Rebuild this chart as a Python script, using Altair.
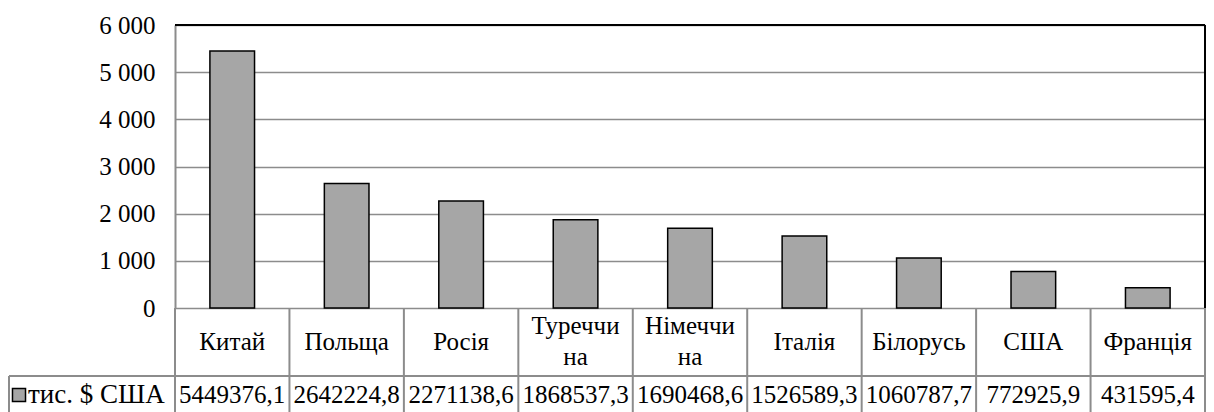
import altair as alt
import pandas as pd

# ---- data ----
countries = ["Китай", "Польща", "Росія", "Туреччина", "Німеччина",
             "Італія", "Білорусь", "США", "Франція"]
cell_labels = ["Китай", "Польща", "Росія", "Туреччи\nна", "Німеччи\nна",
               "Італія", "Білорусь", "США", "Франція"]
values = [5449376.1, 2642224.8, 2271138.6, 1868537.3, 1690468.6,
          1526589.3, 1060787.7, 772925.9, 431595.4]
series_name = ["тис. $ США"]
y_ticks = [0, 1000, 2000, 3000, 4000, 5000, 6000]

df = pd.DataFrame({"country": countries, "label": cell_labels, "value": values})
single = pd.DataFrame({"series": series_name})

PAD_L = 167
W, H = 1030, 283
FONT = "Times New Roman, Liberation Serif"
FS = 25
GRID = "#8c8c8c"
TABLE_BOTTOM = H + 130
ROW_DIV = 351
LEFT_EDGE = -(PAD_L - 1)
CAT_Y = 317
VAL_Y = 370


def xcat(bp=None):
    kw = {} if bp is None else {"bandPosition": bp}
    return alt.X("country:N", sort=countries,
                 scale=alt.Scale(paddingInner=0, paddingOuter=0), axis=None, **kw)


base = alt.Chart(df).transform_calculate(
    k="datum.value / 1000",
    vtxt="replace(format(datum.value, '.1f'), '.', ',')",
    nlines="length(split(datum.label, '\\n'))",
)
one = alt.Chart(single)

bars = base.mark_bar(width=alt.RelativeBandSize(0.39), color="#A6A6A6",
                     stroke="black", strokeWidth=1.5).encode(
    x=xcat(),
    y=alt.Y("k:Q", scale=alt.Scale(domain=[0, 6000], nice=False),
            axis=alt.Axis(values=y_ticks,
                          labelExpr="replace(format(datum.value, ','), ',', ' ')",
                          labelFont=FONT, labelFontSize=FS, labelColor="black",
                          ticks=False, domainColor=GRID, domainWidth=2,
                          gridColor=GRID, gridWidth=1.5, labelPadding=20,
                          title=None)),
)

# plot-area border (top and right)
top_border = one.mark_rule(color="black", strokeWidth=2).encode(
    x=alt.value(0), x2=alt.value(W), y=alt.value(0))
right_border = one.mark_rule(color="black", strokeWidth=2).encode(
    x=alt.value(W), y=alt.value(0), y2=alt.value(H))

# data table grid
col_lines = base.mark_rule(color=GRID, strokeWidth=2).encode(
    x=xcat(0), y=alt.value(H), y2=alt.value(TABLE_BOTTOM))
table_right = one.mark_rule(color=GRID, strokeWidth=2).encode(
    x=alt.value(W), y=alt.value(H), y2=alt.value(TABLE_BOTTOM))
row_div = one.mark_rule(color=GRID, strokeWidth=2).encode(
    x=alt.value(LEFT_EDGE), x2=alt.value(W), y=alt.value(ROW_DIV))
left_edge = one.mark_rule(color=GRID, strokeWidth=2).encode(
    x=alt.value(LEFT_EDGE), y=alt.value(ROW_DIV), y2=alt.value(TABLE_BOTTOM))

cat_text_1 = base.transform_filter("datum.nlines == 1").mark_text(
    font=FONT, fontSize=FS, color="black", baseline="middle", align="center"
).encode(x=xcat(0.5), y=alt.value(CAT_Y), text="label:N")

cat_text_2 = base.transform_filter("datum.nlines > 1").mark_text(
    font=FONT, fontSize=FS, color="black", lineBreak="\n", lineHeight=31,
    baseline="middle", align="center"
).encode(x=xcat(0.5), y=alt.value(CAT_Y - 16), text="label:N")

val_text = base.mark_text(font=FONT, fontSize=FS, color="black",
                          baseline="middle", align="center").encode(
    x=xcat(0.5), y=alt.value(VAL_Y), text="vtxt:N")

legend_sq = one.mark_square(size=170, fill="#A6A6A6", stroke="black",
                            strokeWidth=1.5, opacity=1).encode(
    x=alt.value(LEFT_EDGE + 10), y=alt.value(VAL_Y))
legend_txt = one.mark_text(font=FONT, fontSize=27, color="black",
                           baseline="middle", align="left").encode(
    x=alt.value(LEFT_EDGE + 19), y=alt.value(VAL_Y), text="series:N")

chart = alt.layer(
    bars, top_border, right_border, col_lines, table_right, row_div, left_edge,
    cat_text_1, cat_text_2, val_text, legend_sq, legend_txt
).properties(
    width=W, height=H,
    autosize=alt.AutoSizeParams(type="none"),
    padding={"left": PAD_L, "top": 17, "right": 1, "bottom": 104},
).configure_view(stroke=None)

chart.save("out.html", embed_options={"renderer": "svg", "actions": False})
